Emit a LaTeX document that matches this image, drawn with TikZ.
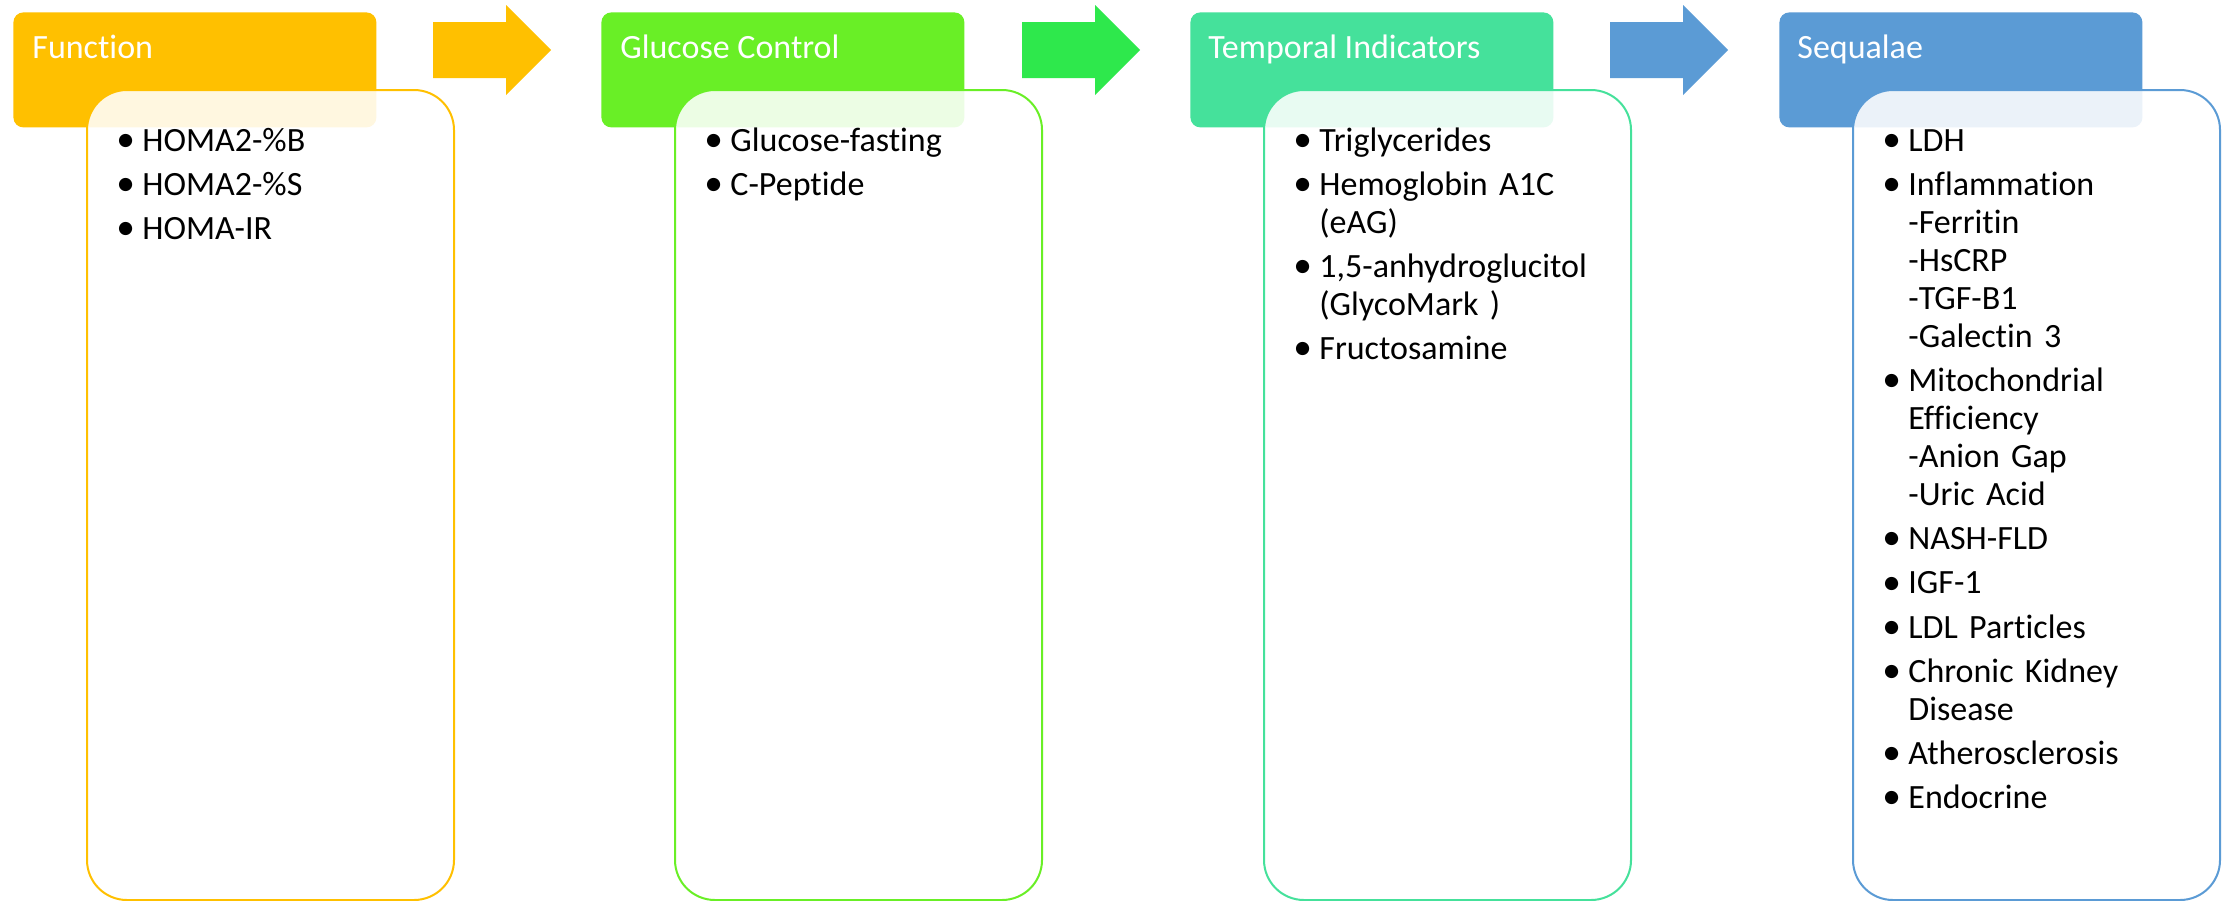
\documentclass[tikz,border=0pt]{standalone}
\usepackage{fontspec}
\setmainfont{Carlito}[Ligatures=NoCommon]
\usetikzlibrary{positioning}
\definecolor{funcol}{HTML}{FFC000}
\definecolor{glucol}{HTML}{69EF26}
\definecolor{glarrow}{HTML}{2EE84C}
\definecolor{tempcol}{HTML}{45E19B}
\definecolor{seqcol}{HTML}{5B9BD5}
\newcommand{\bitem}[1]{\par\hangindent=11.5pt\hangafter=1\noindent\makebox[11.5pt][l]{\hspace{-1.5pt}\raisebox{-0.15pt}{\scalebox{1.1}{\textbullet}}}\strut#1}

\begin{document}
\begin{tikzpicture}[x=0.5pt,y=-0.5pt,
    head/.style={anchor=north west,minimum width=181.5pt,minimum height=57.5pt,rounded corners=5pt,inner sep=0pt},
    title/.style={anchor=base west,text=white,inner sep=0pt,font=\fontsize{17pt}{18.75pt}\selectfont},
    body/.style={anchor=north west,minimum width=183.5pt,minimum height=405pt,rounded corners=20pt,line width=1pt,fill=white,fill opacity=0.88,inner sep=0pt},
    items/.style={anchor=north west,inner sep=0pt,text width=165pt,font=\fontsize{17pt}{19pt}\selectfont,
        execute at begin node={\setlength\parskip{3.1pt}\rightskip=0pt plus 1fil}}]
        \useasboundingbox[fill=white] (0,0) rectangle (2231,900);

        % arrows between the stages
        \foreach \ax/\acol in {433/funcol,1022/glarrow,1610/seqcol}
            \fill[\acol] (\ax,22) -- ++(73,0) -- ++(0,-17) -- ++(45,45) -- ++(-45,45) -- ++(0,-17) -- ++(-73,0) -- cycle;

        \node[head, fill=funcol] (h1) at (13,12) {};
        \node[title] (t1) at (32,58) {Function};
        \node[body, draw=funcol] (b1) at (86,89) {};
        \node[items] (l1) at (119,106.4) {\bitem{HOMA2-\%B}\bitem{HOMA2-\%S}\bitem{HOMA-IR}};

        \node[head, fill=glucol] (h2) at (601,12) {};
        \node[title] (t2) at (620,58) {Glucose Control};
        \node[body, draw=glucol] (b2) at (674,89) {};
        \node[items] (l2) at (707,106.4) {\bitem{Glucose-fasting}\bitem{C-Peptide}};

        \node[head, fill=tempcol] (h3) at (1190,12) {};
        \node[title] (t3) at (1208,58) {Temporal Indicators};
        \node[body, draw=tempcol] (b3) at (1263,89) {};
        \node[items] (l3) at (1296,106.4) {\bitem{Triglycerides}\bitem{Hemoglobin A1C\newline(eAG)}%
            \bitem{1,5-anhydroglucitol\newline(GlycoMark )}\bitem{Fructosamine}};

        \node[head, fill=seqcol] (h4) at (1779,12) {};
        \node[title] (t4) at (1797,58) {Sequalae};
        \node[body, draw=seqcol] (b4) at (1852,89) {};
        \node[items] (l4) at (1885,106.4) {\bitem{LDH}\bitem{Inflammation\newline-Ferritin\newline-HsCRP\newline-TGF-B1\newline-Galectin 3}%
            \bitem{Mitochondrial\newline Efficiency\newline-Anion Gap\newline-Uric Acid}\bitem{NASH-FLD}\bitem{IGF-1}%
            \bitem{LDL Particles}\bitem{Chronic Kidney\newline Disease}\bitem{Atherosclerosis}\bitem{Endocrine}};
    \end{tikzpicture}
\end{document}
